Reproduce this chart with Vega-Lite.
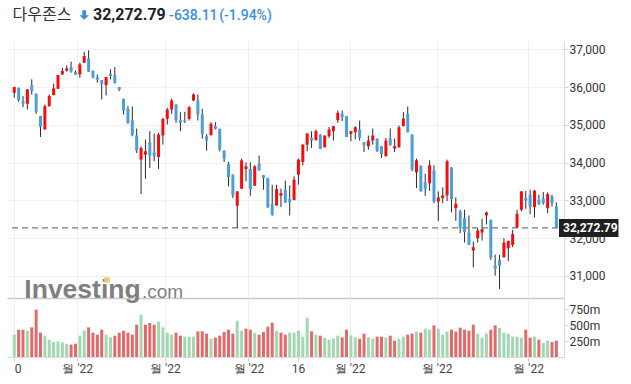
{
"$schema":"https://vega.github.io/schema/vega-lite/v6.json",
"padding":{"left":7,"top":6,"right":0,"bottom":0},
"background":"white",
"spacing":0,
"bounds":"flush",
"config":{"view":{"stroke":null},"font":"Roboto"},
"datasets":{
"candles":[
{"day":0,"o":35850,"h":36010,"l":35720,"c":36000,"v":349},
{"day":1,"o":35973,"h":35990,"l":35610,"c":35655,"v":427},
{"day":2,"o":35628,"h":35761,"l":35469,"c":35557,"v":427},
{"day":3,"o":35557,"h":35945,"l":35407,"c":35938,"v":411},
{"day":4,"o":36053,"h":36204,"l":35805,"c":35894,"v":463},
{"day":5,"o":35823,"h":35830,"l":35292,"c":35345,"v":740},
{"day":6,"o":35230,"h":35240,"l":34681,"c":34947,"v":380},
{"day":7,"o":34880,"h":35540,"l":34870,"c":35496,"v":333},
{"day":8,"o":35496,"h":35806,"l":35478,"c":35761,"v":271},
{"day":9,"o":35788,"h":36089,"l":35780,"c":35965,"v":234},
{"day":10,"o":35956,"h":36325,"l":35950,"c":36319,"v":245},
{"day":11,"o":36336,"h":36513,"l":36319,"c":36425,"v":229},
{"day":12,"o":36434,"h":36575,"l":36407,"c":36496,"v":208},
{"day":13,"o":36531,"h":36673,"l":36381,"c":36407,"v":193},
{"day":14,"o":36398,"h":36442,"l":36320,"c":36327,"v":208},
{"day":15,"o":36336,"h":36646,"l":36248,"c":36602,"v":333},
{"day":16,"o":36646,"h":36938,"l":36640,"c":36823,"v":411},
{"day":17,"o":36761,"h":36973,"l":36400,"c":36407,"v":463},
{"day":18,"o":36425,"h":36442,"l":36230,"c":36248,"v":380},
{"day":19,"o":36265,"h":36336,"l":36115,"c":36195,"v":349},
{"day":20,"o":36186,"h":36190,"l":35673,"c":36088,"v":427},
{"day":21,"o":36053,"h":36270,"l":35779,"c":36265,"v":349},
{"day":22,"o":36354,"h":36469,"l":36204,"c":36290,"v":307},
{"day":23,"o":36319,"h":36531,"l":36089,"c":36115,"v":333},
{"day":24,"o":36000,"h":36005,"l":35894,"c":35929,"v":380},
{"day":25,"o":35690,"h":35695,"l":35274,"c":35380,"v":411},
{"day":26,"o":35425,"h":35496,"l":35027,"c":35053,"v":380},
{"day":27,"o":35124,"h":35487,"l":34699,"c":34725,"v":349},
{"day":28,"o":34725,"h":34903,"l":34256,"c":34318,"v":505},
{"day":29,"o":34080,"h":34434,"l":33168,"c":34389,"v":661},
{"day":30,"o":34213,"h":34610,"l":33575,"c":34300,"v":505},
{"day":31,"o":34540,"h":34831,"l":33859,"c":34186,"v":531},
{"day":32,"o":34274,"h":34770,"l":34035,"c":34168,"v":505},
{"day":33,"o":34150,"h":34788,"l":33832,"c":34743,"v":552},
{"day":34,"o":34717,"h":35186,"l":34478,"c":35159,"v":463},
{"day":35,"o":35159,"h":35451,"l":35009,"c":35407,"v":380},
{"day":36,"o":35407,"h":35699,"l":35292,"c":35646,"v":349},
{"day":37,"o":35540,"h":35545,"l":35053,"c":35124,"v":380},
{"day":38,"o":35124,"h":35336,"l":34832,"c":35053,"v":333},
{"day":39,"o":35120,"h":35345,"l":35050,"c":35080,"v":318},
{"day":40,"o":35159,"h":35496,"l":35115,"c":35469,"v":318},
{"day":41,"o":35646,"h":35832,"l":35628,"c":35805,"v":318},
{"day":42,"o":35646,"h":35805,"l":35115,"c":35274,"v":401},
{"day":43,"o":35274,"h":35425,"l":34637,"c":34761,"v":401},
{"day":44,"o":34699,"h":34761,"l":34318,"c":34584,"v":365},
{"day":45,"o":34725,"h":35071,"l":34720,"c":35027,"v":286},
{"day":46,"o":34965,"h":35071,"l":34876,"c":34894,"v":302},
{"day":47,"o":34894,"h":34900,"l":34301,"c":34345,"v":333},
{"day":48,"o":34318,"h":34325,"l":34018,"c":34106,"v":391},
{"day":49,"o":33973,"h":34018,"l":33371,"c":33619,"v":427},
{"day":50,"o":33681,"h":33690,"l":33062,"c":33133,"v":365},
{"day":51,"o":32858,"h":33245,"l":32272,"c":33239,"v":568},
{"day":52,"o":33310,"h":34106,"l":33305,"c":34062,"v":411},
{"day":53,"o":33832,"h":34009,"l":33504,"c":33903,"v":443},
{"day":54,"o":33832,"h":34009,"l":33124,"c":33301,"v":427},
{"day":55,"o":33390,"h":33930,"l":33385,"c":33903,"v":380},
{"day":56,"o":33973,"h":34186,"l":33790,"c":33796,"v":349},
{"day":57,"o":33664,"h":33670,"l":33283,"c":33593,"v":391},
{"day":58,"o":33593,"h":33600,"l":32796,"c":32823,"v":474},
{"day":59,"o":32902,"h":33416,"l":32593,"c":32619,"v":536},
{"day":60,"o":32867,"h":33416,"l":32860,"c":33301,"v":411},
{"day":61,"o":33124,"h":33310,"l":32823,"c":33195,"v":380},
{"day":62,"o":33283,"h":33522,"l":32929,"c":32944,"v":349},
{"day":63,"o":33035,"h":33398,"l":32602,"c":32946,"v":380},
{"day":64,"o":33009,"h":33637,"l":33005,"c":33549,"v":380},
{"day":65,"o":33681,"h":34106,"l":33416,"c":34080,"v":411},
{"day":66,"o":34018,"h":34485,"l":33929,"c":34478,"v":318},
{"day":67,"o":34478,"h":34775,"l":34301,"c":34770,"v":615},
{"day":68,"o":34655,"h":34832,"l":34389,"c":34584,"v":401},
{"day":69,"o":34593,"h":34876,"l":34590,"c":34832,"v":349},
{"day":70,"o":34743,"h":34750,"l":34358,"c":34363,"v":333},
{"day":71,"o":34407,"h":34720,"l":34400,"c":34717,"v":297},
{"day":72,"o":34699,"h":34947,"l":34655,"c":34876,"v":271},
{"day":73,"o":34832,"h":34970,"l":34584,"c":34965,"v":286},
{"day":74,"o":35124,"h":35380,"l":35053,"c":35318,"v":333},
{"day":75,"o":35292,"h":35380,"l":35097,"c":35203,"v":307},
{"day":76,"o":35230,"h":35235,"l":34676,"c":34681,"v":427},
{"day":77,"o":34761,"h":34840,"l":34566,"c":34832,"v":339},
{"day":78,"o":34805,"h":34965,"l":34620,"c":34938,"v":307},
{"day":79,"o":34876,"h":35115,"l":34584,"c":34655,"v":286},
{"day":80,"o":34540,"h":34545,"l":34283,"c":34469,"v":365},
{"day":81,"o":34434,"h":34717,"l":34345,"c":34584,"v":307},
{"day":82,"o":34584,"h":34903,"l":34478,"c":34717,"v":286},
{"day":83,"o":34637,"h":34640,"l":34283,"c":34301,"v":318},
{"day":84,"o":34434,"h":34440,"l":34124,"c":34230,"v":318},
{"day":85,"o":34168,"h":34655,"l":34165,"c":34584,"v":307},
{"day":86,"o":34637,"h":34903,"l":34455,"c":34460,"v":333},
{"day":87,"o":34372,"h":34637,"l":34283,"c":34434,"v":255},
{"day":88,"o":34407,"h":34982,"l":34400,"c":34938,"v":286},
{"day":89,"o":34965,"h":35336,"l":34960,"c":35168,"v":318},
{"day":90,"o":35292,"h":35487,"l":34800,"c":34805,"v":349},
{"day":91,"o":34743,"h":34748,"l":33770,"c":33814,"v":365},
{"day":92,"o":33743,"h":34106,"l":33327,"c":34062,"v":396},
{"day":93,"o":33920,"h":33925,"l":33235,"c":33239,"v":380},
{"day":94,"o":33478,"h":33708,"l":33124,"c":33301,"v":443},
{"day":95,"o":33452,"h":34062,"l":33256,"c":33930,"v":427},
{"day":96,"o":33796,"h":33930,"l":32929,"c":32973,"v":495},
{"day":97,"o":32973,"h":33239,"l":32460,"c":33080,"v":443},
{"day":98,"o":33062,"h":33346,"l":32929,"c":33133,"v":349},
{"day":99,"o":33133,"h":34080,"l":32982,"c":34035,"v":396},
{"day":100,"o":33876,"h":33880,"l":32681,"c":33035,"v":427},
{"day":101,"o":32796,"h":33080,"l":32460,"c":32911,"v":396},
{"day":102,"o":32708,"h":32752,"l":32133,"c":32265,"v":458},
{"day":103,"o":32531,"h":32752,"l":31885,"c":32159,"v":427},
{"day":104,"o":32150,"h":32602,"l":31820,"c":31823,"v":411},
{"day":105,"o":31673,"h":31911,"l":31230,"c":31761,"v":505},
{"day":106,"o":32000,"h":32265,"l":31885,"c":32204,"v":365},
{"day":107,"o":32150,"h":32513,"l":31938,"c":32239,"v":302},
{"day":108,"o":32602,"h":32708,"l":32363,"c":32681,"v":365},
{"day":109,"o":32487,"h":32490,"l":31425,"c":31487,"v":427},
{"day":110,"o":31274,"h":31566,"l":31009,"c":31186,"v":495},
{"day":111,"o":31425,"h":31557,"l":30654,"c":31274,"v":458},
{"day":112,"o":31495,"h":32000,"l":31490,"c":31885,"v":380},
{"day":113,"o":31734,"h":31935,"l":31398,"c":31929,"v":365},
{"day":114,"o":31823,"h":32221,"l":31761,"c":32115,"v":318},
{"day":115,"o":32283,"h":32752,"l":32280,"c":32646,"v":318},
{"day":116,"o":32752,"h":33245,"l":32708,"c":33239,"v":302},
{"day":117,"o":33062,"h":33257,"l":32779,"c":32991,"v":427},
{"day":118,"o":33150,"h":33283,"l":32637,"c":32840,"v":302},
{"day":119,"o":32823,"h":33283,"l":32549,"c":33257,"v":318},
{"day":120,"o":33018,"h":33150,"l":32877,"c":32902,"v":271},
{"day":121,"o":33053,"h":33221,"l":32885,"c":32929,"v":219},
{"day":122,"o":32796,"h":33212,"l":32664,"c":33168,"v":255},
{"day":123,"o":33106,"h":33150,"l":32841,"c":32929,"v":234},
{"day":124,"o":32841,"h":32947,"l":32265,"c":32272.79,"v":255}
],
"last":[{"name":"다우존스","close":32272.79,"closeText":"32,272.79","change":"-638.11","pct":"(-1.94%)"}],
"logo":[{"word":"Investing","suffix":".com"}]
},
"vconcat":[
{
"width":557,"height":257,
"layer":[
{"data":{"name":"candles"},"mark":{"type":"bar","width":3},
 "encoding":{"x":{"field":"day","type":"quantitative","scale":{"domain":[-0.52,124.6],"nice":false,"zero":false},
   "axis":{"values":[0,14.4,34.45,53.55,64.9,76.7,96.6,117.55],"grid":true,"gridColor":"#efefef","labels":false,"ticks":false,"domain":true,"domainColor":"#c9c9c9","domainWidth":1.5,"title":null}},
 "y":{"field":"o","type":"quantitative","scale":{"domain":[30417,37220],"nice":false,"zero":false},
   "axis":{"orient":"right","values":[31000,32000,33000,34000,35000,36000,37000],"labelExpr":"format(datum.value, ',')","grid":true,"gridColor":"#f0f0f0","domainColor":"#d9d9d9","tickColor":"#d9d9d9","tickSize":4,"labelPadding":1,"labelFont":"Roboto","labelFontSize":12,"labelColor":"#333333","title":null}},
 "y2":{"field":"c"},
 "opacity":{"value":0}}},
{"data":{"name":"last"},"mark":{"type":"rule","color":"#555555","strokeWidth":1,"strokeDash":[6,4]},
 "encoding":{"x":{"datum":-0.52,"type":"quantitative","scale":{"domain":[-0.52,124.6],"nice":false,"zero":false}},
 "x2":{"datum":124.6},
 "y":{"field":"close","type":"quantitative","scale":{"domain":[30417,37220],"nice":false,"zero":false}}}},
{"data":{"name":"candles"},"mark":{"type":"rule","color":"#2a2a2a","strokeWidth":1},
 "encoding":{"x":{"field":"day","type":"quantitative","scale":{"domain":[-0.52,124.6],"nice":false,"zero":false}},
 "y":{"field":"l","type":"quantitative","scale":{"domain":[30417,37220],"nice":false,"zero":false}},
 "y2":{"field":"h"}}},
{"data":{"name":"candles"},"mark":{"type":"bar","width":3},
 "encoding":{"x":{"field":"day","type":"quantitative","scale":{"domain":[-0.52,124.6],"nice":false,"zero":false}},
 "y":{"field":"o","type":"quantitative","scale":{"domain":[30417,37220],"nice":false,"zero":false}},
 "y2":{"field":"c"},
 "color":{"condition":{"test":"datum.c >= datum.o","value":"#f60c0c"},"value":"#4b9edb"}}},
{"data":{"name":"logo"},"mark":{"type":"text","align":"left","baseline":"alphabetic","font":"Liberation Sans","fontSize":26.5,"fontWeight":"bold","color":"#7f7f7f"},
 "encoding":{"x":{"datum":2.3,"type":"quantitative","scale":{"domain":[-0.52,124.6],"nice":false,"zero":false}},
 "y":{"datum":30404,"type":"quantitative","scale":{"domain":[30417,37220],"nice":false,"zero":false}},
 "text":{"field":"word"}}},
{"data":{"name":"logo"},"mark":{"type":"text","align":"left","baseline":"alphabetic","font":"Liberation Sans","fontSize":19,"color":"#7f7f7f"},
 "encoding":{"x":{"datum":29.2,"type":"quantitative","scale":{"domain":[-0.52,124.6],"nice":false,"zero":false}},
 "y":{"datum":30404,"type":"quantitative","scale":{"domain":[30417,37220],"nice":false,"zero":false}},
 "text":{"field":"suffix"}}},
{"data":{"name":"logo"},"mark":{"type":"point","shape":"square","filled":true,"opacity":1,"size":30,"color":"#f6c27a"},
 "encoding":{"x":{"datum":21.2,"type":"quantitative","scale":{"domain":[-0.52,124.6],"nice":false,"zero":false}},
 "y":{"datum":30894,"type":"quantitative","scale":{"domain":[30417,37220],"nice":false,"zero":false}}}},
{"data":{"name":"last"},"mark":{"type":"rule","color":"#1f1f1f","strokeWidth":18,"strokeCap":"butt"},
 "encoding":{"x":{"datum":124.6,"type":"quantitative","scale":{"domain":[-0.52,124.6],"nice":false,"zero":false}},
 "x2":{"datum":138.2},
 "y":{"field":"close","type":"quantitative","scale":{"domain":[30417,37220],"nice":false,"zero":false}}}},
{"data":{"name":"last"},"mark":{"type":"text","align":"left","baseline":"middle","dx":4,"font":"Roboto","fontSize":12,"fontWeight":"bold","color":"#ffffff"},
 "encoding":{"x":{"datum":124.6,"type":"quantitative","scale":{"domain":[-0.52,124.6],"nice":false,"zero":false}},
 "y":{"field":"close","type":"quantitative","scale":{"domain":[30417,37220],"nice":false,"zero":false}},
 "text":{"field":"closeText"}}},
{"data":{"name":"last"},"mark":{"type":"text","align":"left","baseline":"alphabetic","font":"Noto Sans CJK KR","fontSize":16,"color":"#333333"},
 "encoding":{"x":{"datum":-0.4,"type":"quantitative","scale":{"domain":[-0.52,124.6],"nice":false,"zero":false}},
 "y":{"datum":37776,"type":"quantitative","scale":{"domain":[30417,37220],"nice":false,"zero":false}},
 "text":{"field":"name"}}},
{"data":{"name":"last"},"mark":{"type":"point","shape":"M-0.4,-1L0.4,-1L0.4,0.05L1,0.05L0,1L-1,0.05L-0.4,0.05Z","filled":true,"opacity":1,"size":90,"color":"#3a8fdc"},
 "encoding":{"x":{"datum":15.99,"type":"quantitative","scale":{"domain":[-0.52,124.6],"nice":false,"zero":false}},
 "y":{"datum":37908,"type":"quantitative","scale":{"domain":[30417,37220],"nice":false,"zero":false}}}},
{"data":{"name":"last"},"mark":{"type":"text","align":"left","baseline":"alphabetic","font":"Roboto","fontSize":16,"fontWeight":"bold","color":"#222222"},
 "encoding":{"x":{"datum":18.0,"type":"quantitative","scale":{"domain":[-0.52,124.6],"nice":false,"zero":false}},
 "y":{"datum":37776,"type":"quantitative","scale":{"domain":[30417,37220],"nice":false,"zero":false}},
 "text":{"field":"closeText"}}},
{"data":{"name":"last"},"mark":{"type":"text","align":"left","baseline":"alphabetic","font":"Roboto","fontSize":14,"fontWeight":500,"color":"#3a8fdc"},
 "encoding":{"x":{"datum":35.42,"type":"quantitative","scale":{"domain":[-0.52,124.6],"nice":false,"zero":false}},
 "y":{"datum":37776,"type":"quantitative","scale":{"domain":[30417,37220],"nice":false,"zero":false}},
 "text":{"field":"change"}}},
{"data":{"name":"last"},"mark":{"type":"text","align":"left","baseline":"alphabetic","font":"Roboto","fontSize":14,"fontWeight":500,"color":"#3a8fdc"},
 "encoding":{"x":{"datum":46.88,"type":"quantitative","scale":{"domain":[-0.52,124.6],"nice":false,"zero":false}},
 "y":{"datum":37776,"type":"quantitative","scale":{"domain":[30417,37220],"nice":false,"zero":false}},
 "text":{"field":"pct"}}}
]
},
{
"width":557,"height":59,
"data":{"name":"candles"},
"transform":[{"window":[{"op":"lag","field":"c","as":"prev"}],"sort":[{"field":"day"}]}],
"mark":{"type":"bar","width":3},
"encoding":{
 "x":{"field":"day","type":"quantitative","scale":{"domain":[-0.52,124.6],"nice":false,"zero":false},
  "axis":{"values":[0,14.4,34.45,53.55,64.9,76.7,96.6,117.55],"grid":true,"gridColor":"#efefef","domainColor":"#dcdcdc","tickColor":"#cfcfcf","tickSize":4,"labelFont":"Roboto","labelFontSize":12,"labelColor":"#444444","labelPadding":2,"labelFlush":false,"labelOverlap":false,
   "labelExpr":"datum.value == 0 ? '0' : datum.value == 64.9 ? '16' : \"월 '22\"",
   "labelAlign":{"condition":{"test":"datum.value == 0","value":"left"},"value":"center"},"title":null}},
 "y":{"field":"v","type":"quantitative","scale":{"domain":[0,922],"nice":false},
  "axis":{"orient":"right","values":[250,500,750],"labelExpr":"datum.value + 'm'","grid":false,"domainColor":"#d9d9d9","tickColor":"#d9d9d9","tickSize":4,"labelPadding":1,"labelFont":"Roboto","labelFontSize":12,"labelColor":"#333333","title":null}},
 "color":{"condition":{"test":"datum.prev == null || datum.c >= datum.prev","value":"#a3d7b3"},"value":"#e26a6a"}
}
}
]
}
